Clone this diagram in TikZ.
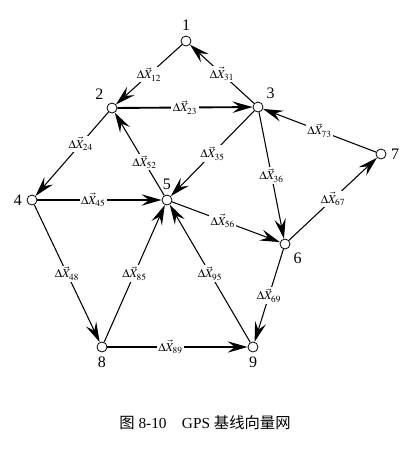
\documentclass[tikz,border=0pt]{standalone}
\usepackage{amsmath}
\usepackage{mathptmx}
\usepackage{fontspec}
\setmainfont{Liberation Serif}
\newfontfamily\cjk{Noto Sans CJK SC}
\usetikzlibrary{arrows.meta}

\begin{document}
\begin{tikzpicture}[x=0.75pt,y=-0.75pt,
  pt/.style={circle,draw,fill=white,inner sep=0pt,minimum size=7.5pt,line width=0.6pt,label distance=1pt},
  every label/.style={font=\fontsize{12}{14}\selectfont},
  vec/.style={line width=0.8pt,-{Stealth[length=15pt,width=8.5pt,inset=5.5pt]}},
  thick vec/.style={vec,line width=1.4pt},
  lab/.style={pos=0.5,fill=white,inner sep=1pt,font=\fontsize{9}{10}\selectfont}]
\useasboundingbox (0,0) rectangle (419,455);
\node[pt,label=above:1]       (n1) at (186,41)  {};
\node[pt,label=above left:2]  (n2) at (112,108) {};
\node[pt,label=above right:3] (n3) at (258,107) {};
\node[pt,label=left:4]        (n4) at (32,200)  {};
\node[pt,label=above:5]       (n5) at (167,200) {};
\node[pt,label=below right:6] (n6) at (285,244) {};
\node[pt,label=right:7]       (n7) at (381,154) {};
\node[pt,label=below:8]       (n8) at (102,347) {};
\node[pt,label=below:9]       (n9) at (253,347) {};
\draw[vec] (n1) -- (n2) node[lab] {$\Delta\vec{X}_{12}$};
\draw[vec] (n3) -- (n1) node[lab] {$\Delta\vec{X}_{31}$};
\draw[thick vec] (n2) -- (n3) node[lab] {$\Delta\vec{X}_{23}$};
\draw[vec] (n2) -- (n4) node[lab,pos=0.38] {$\Delta\vec{X}_{24}$};
\draw[vec] (n5) -- (n2) node[lab,pos=0.4] {$\Delta\vec{X}_{52}$};
\draw[vec] (n3) -- (n5) node[lab] {$\Delta\vec{X}_{35}$};
\draw[vec] (n3) -- (n6) node[lab] {$\Delta\vec{X}_{36}$};
\draw[vec] (n7) -- (n3) node[lab] {$\Delta\vec{X}_{73}$};
\draw[vec] (n6) -- (n7) node[lab] {$\Delta\vec{X}_{67}$};
\draw[thick vec] (n4) -- (n5) node[lab,pos=0.45] {$\Delta\vec{X}_{45}$};
\draw[vec] (n5) -- (n6) node[lab,pos=0.47] {$\Delta\vec{X}_{56}$};
\draw[vec] (n4) -- (n8) node[lab] {$\Delta\vec{X}_{48}$};
\draw[vec] (n8) -- (n5) node[lab] {$\Delta\vec{X}_{85}$};
\draw[vec] (n9) -- (n5) node[lab] {$\Delta\vec{X}_{95}$};
\draw[vec] (n6) -- (n9) node[lab] {$\Delta\vec{X}_{69}$};
\draw[vec] (n8) -- (n9) node[lab,pos=0.45] {$\Delta\vec{X}_{89}$};
\node[font=\fontsize{11.5}{13}\selectfont] (cap) at (205,423) {{\cjk 图} 8-10\quad GPS {\cjk 基线向量网}};
\end{tikzpicture}
\end{document}
